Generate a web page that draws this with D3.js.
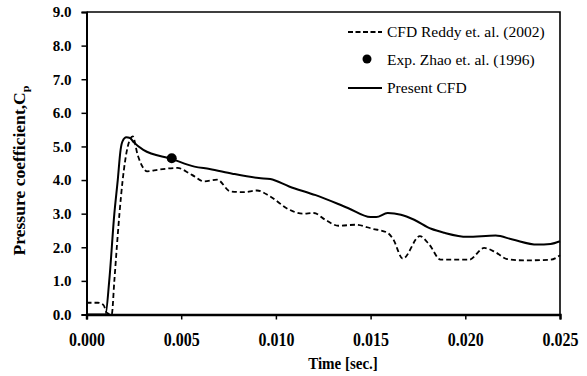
<!DOCTYPE html>
<html>
<head>
<meta charset="utf-8">
<script src="https://cdn.jsdelivr.net/npm/d3@7"></script>
<style>
  html, body { margin: 0; padding: 0; background: #fff; }
  svg { display: block; }
  .tick text { font-family: "Liberation Serif", "Times New Roman", serif; font-weight: bold; fill: #000; }
</style>
</head>
<body>
<svg id="chart" width="587" height="376"></svg>
<script>
// Time axis ticks [s] and pressure-coefficient ticks
const timeTicks = [0, 0.005, 0.010, 0.015, 0.020, 0.025];
const cpTicks = [0, 1, 2, 3, 4, 5, 6, 7, 8, 9];

// CFD Reddy et al. (2002)
const reddyTime = [0, 0.0006, 0.0009, 0.00107, 0.00133, 0.00147, 0.0016, 0.00174, 0.00191, 0.00218, 0.00244,
  0.0027, 0.0030, 0.0032, 0.0038, 0.0048, 0.0054, 0.0057, 0.0062, 0.0069, 0.0076, 0.0083, 0.0090, 0.0097,
  0.0107, 0.0114, 0.0120, 0.0126, 0.0133, 0.0142, 0.0151, 0.0159, 0.0162, 0.0167, 0.0176, 0.0181, 0.0187,
  0.0202, 0.0210, 0.0216, 0.0222, 0.0231, 0.0245, 0.0250];
const reddyCp = [0.35, 0.35, 0.28, 0.05, 0.0, 1.0, 2.0, 3.0, 4.0, 5.0, 5.3,
  4.75, 4.36, 4.26, 4.31, 4.36, 4.21, 4.11, 3.96, 4.01, 3.66, 3.64, 3.69, 3.51,
  3.12, 3.0, 3.02, 2.82, 2.64, 2.67, 2.55, 2.43, 2.23, 1.66, 2.33, 2.08, 1.63,
  1.63, 1.98, 1.85, 1.65, 1.61, 1.63, 1.76];

// Experiment, Zhao et al. (1996)
const zhaoTime = [0.0045];
const zhaoCp = [4.65];

// Present CFD
const presentTime = [0, 0.0010, 0.0012, 0.00147, 0.00165, 0.0018, 0.0019, 0.0021, 0.0023, 0.0025, 0.0030,
  0.0045, 0.0057, 0.0065, 0.0077, 0.0091, 0.0097, 0.0107, 0.0121, 0.0138, 0.0150, 0.0153, 0.0159,
  0.0166, 0.0173, 0.0182, 0.0189, 0.0201, 0.0216, 0.0225, 0.0238, 0.0245, 0.0250];
const presentCp = [0, 0, 1.0, 3.0, 4.0, 4.9, 5.15, 5.27, 5.25, 5.12, 4.9,
  4.63, 4.4, 4.33, 4.19, 4.06, 4.03, 3.81, 3.55, 3.17, 2.90, 2.90, 3.02,
  2.97, 2.82, 2.55, 2.43, 2.31, 2.35, 2.23, 2.08, 2.10, 2.18];

const legendLabels = ["CFD Reddy et. al. (2002)", "Exp. Zhao et. al. (1996)", "Present CFD"];

const svg = d3.select("#chart");
const plot = { left: 86.5, right: 560, top: 12, bottom: 314.5 };

const x = d3.scaleLinear().domain([0, 0.025]).range([plot.left, plot.right]);
const y = d3.scaleLinear().domain([0, 9]).range([plot.bottom, plot.top]);

const serif = '"Liberation Serif", "Times New Roman", serif';

// frame (top and right edges)
svg.append("path")
  .attr("d", `M${plot.left},${plot.top}H${plot.right}V${plot.bottom}`)
  .attr("fill", "none").attr("stroke", "#000").attr("stroke-width", 1.6);

// curves
const line = d3.line().curve(d3.curveMonotoneX).x(d => x(d[0])).y(d => y(d[1]));

svg.append("path")
  .datum(d3.zip(reddyTime, reddyCp))
  .attr("d", line)
  .attr("fill", "none").attr("stroke", "#000").attr("stroke-width", 1.8)
  .attr("stroke-dasharray", "5,3");

svg.append("path")
  .datum(d3.zip(presentTime, presentCp))
  .attr("d", line)
  .attr("fill", "none").attr("stroke", "#000").attr("stroke-width", 2);

svg.selectAll("circle.exp")
  .data(d3.zip(zhaoTime, zhaoCp))
  .join("circle").attr("class", "exp")
  .attr("cx", d => x(d[0])).attr("cy", d => y(d[1])).attr("r", 5).attr("fill", "#000");

// axes
const yAxis = svg.append("g")
  .attr("transform", `translate(${plot.left},0)`)
  .call(d3.axisLeft(y).tickValues(cpTicks).tickFormat(d3.format(".1f")).tickSize(5).tickPadding(10));
yAxis.selectAll(".tick text").style("font-size", "15px");
yAxis.select(".domain").attr("stroke-width", 2);
yAxis.selectAll(".tick line").attr("stroke-width", 1.5);

const xAxis = svg.append("g")
  .attr("transform", `translate(0,${plot.bottom})`)
  .call(d3.axisBottom(x).tickValues(timeTicks).tickFormat(d3.format(".3f")).tickSize(5).tickPadding(12));
xAxis.selectAll(".tick text").style("font-size", "16px")
  .attr("transform", "scale(1,1.12)");
xAxis.select(".domain").attr("stroke-width", 2.4);
xAxis.selectAll(".tick line").attr("stroke-width", 1.5);

// axis titles
svg.append("text")
  .attr("transform", "translate(343,369) scale(1,1.15)")
  .attr("text-anchor", "middle")
  .style("font-family", serif).style("font-weight", "bold").style("font-size", "15px")
  .text("Time [sec.]");

const yTitle = svg.append("text")
  .attr("transform", "translate(25,170.5) rotate(-90) scale(1.1,1)")
  .attr("text-anchor", "middle")
  .style("font-family", serif).style("font-weight", "bold").style("font-size", "16px");
yTitle.append("tspan").text("Pressure coefficient,C");
yTitle.append("tspan").attr("dy", 4).style("font-size", "11px").text("p");

// legend
const legend = svg.append("g").attr("transform", "translate(348,0)");
const rows = [32, 60, 88];
legend.append("line").attr("x1", 0).attr("x2", 34).attr("y1", rows[0]).attr("y2", rows[0])
  .attr("stroke", "#000").attr("stroke-width", 1.8).attr("stroke-dasharray", "5,2.5");
legend.append("circle").attr("cx", 19).attr("cy", rows[1] - 1).attr("r", 4.5).attr("fill", "#000");
legend.append("line").attr("x1", 0).attr("x2", 34).attr("y1", rows[2]).attr("y2", rows[2])
  .attr("stroke", "#000").attr("stroke-width", 2);
legend.selectAll("text.lbl")
  .data(legendLabels)
  .join("text").attr("class", "lbl")
  .attr("x", 39).attr("y", (d, i) => rows[i] + 5)
  .style("font-family", serif).style("font-size", "15.5px")
  .text(d => d);
</script>
</body>
</html>
